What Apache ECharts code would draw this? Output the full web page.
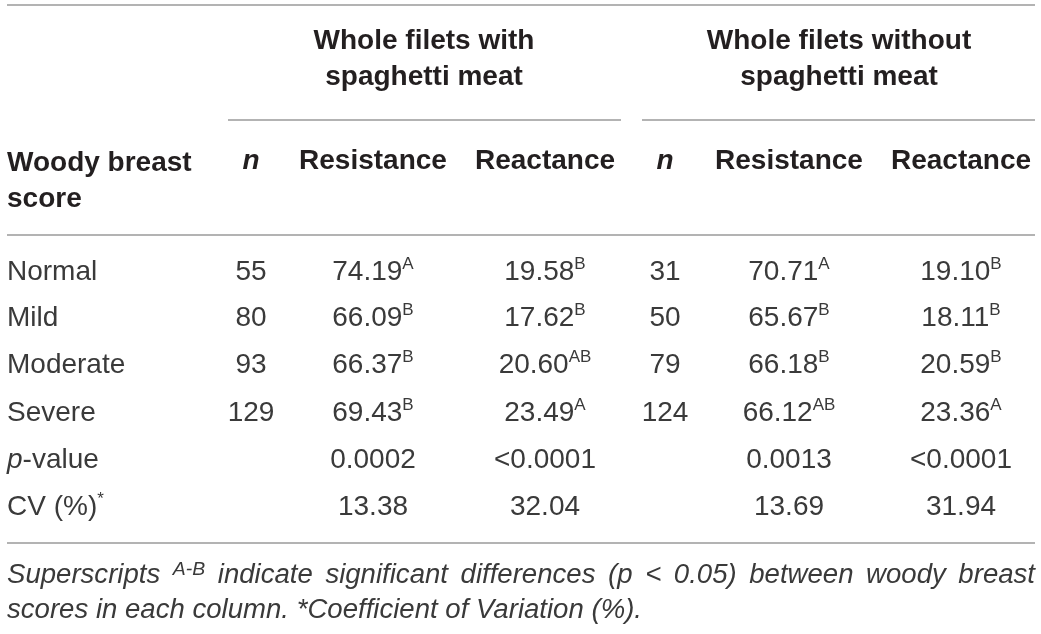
<!DOCTYPE html>
<html>
<head>
<meta charset="utf-8">
<script src="https://cdn.jsdelivr.net/npm/echarts@6/dist/echarts.min.js"></script>
<style>
  html, body { margin: 0; padding: 0; background: #fff; }
  #table { width: 1041px; height: 634px; }
</style>
</head>
<body>
<div id="table"></div>
<script>
// table values
var scores = ['Normal', 'Mild', 'Moderate', 'Severe'];
var nWith = [55, 80, 93, 129];
var resWith = [74.19, 66.09, 66.37, 69.43];
var resWithSup = ['A', 'B', 'B', 'B'];
var reaWith = [19.58, 17.62, 20.60, 23.49];
var reaWithSup = ['B', 'B', 'AB', 'A'];
var nWithout = [31, 50, 79, 124];
var resWithout = [70.71, 65.67, 66.18, 66.12];
var resWithoutSup = ['A', 'B', 'B', 'AB'];
var reaWithout = [19.10, 18.11, 20.59, 23.36];
var reaWithoutSup = ['B', 'B', 'B', 'A'];
var pValues = ['0.0002', '<0.0001', '0.0013', '<0.0001'];
var cvValues = ['13.38', '32.04', '13.69', '31.94'];
var groups = ['Whole filets with\nspaghetti meat', 'Whole filets without\nspaghetti meat'];
var colHeads = ['n', 'Resistance', 'Reactance', 'n', 'Resistance', 'Reactance'];
var noteWords = ['Superscripts', '^A-B', 'indicate', 'significant', 'differences', '(p', '<', '0.05)', 'between', 'woody', 'breast'];
var noteLine2 = 'scores in each column. *Coefficient of Variation (%).';

// layout
var FONT = '"Liberation Sans", Arial, Helvetica, sans-serif';
var colX = [251, 373, 545, 665, 789, 961];
var rowY = [272, 318, 365, 413, 460, 507];
var ink = '#231f20';
var body = '#3a3a3a';
var rule = '#9a9a9a';

var chart = echarts.init(document.getElementById('table'));
var els = [];

function hline(x1, x2, y) {
    els.push({type: 'line', shape: {x1: x1, y1: y, x2: x2, y2: y},
        style: {stroke: rule, lineWidth: 1.5}, silent: true});
}

var cellRich = {
    v: {fontFamily: FONT, fontSize: 28, fill: body, lineHeight: 32},
    s: {fontFamily: FONT, fontSize: 17, fill: body, lineHeight: 32, verticalAlign: 'top'},
    i: {fontFamily: FONT, fontSize: 28, fill: body, lineHeight: 32, fontStyle: 'italic'}
};

function cell(x, y, txt, sup, align) {
    var t = '{v|' + txt + '}' + (sup ? '{s|' + sup + '}' : '');
    els.push({type: 'text', x: x, y: y, silent: true, style: {
        text: t, align: align || 'center', verticalAlign: 'middle', rich: cellRich
    }});
}

function bold(x, y, txt, align, italic) {
    els.push({type: 'text', x: x, y: y, silent: true, style: {
        text: txt, align: align || 'center', verticalAlign: 'middle',
        fontFamily: FONT, fontSize: 28, fontWeight: 'bold', fontStyle: italic ? 'italic' : 'normal',
        fill: ink, lineHeight: 36
    }});
}

// rules
hline(7, 1035, 5);
hline(228, 621, 120);
hline(642, 1035, 120);
hline(7, 1035, 235);
hline(7, 1035, 543);

// header
bold(424, 59, groups[0]);
bold(839, 59, groups[1]);
bold(7, 181, 'Woody breast\nscore', 'left');
colHeads.forEach(function (h, i) {
    bold(colX[i], 161, h, 'center', h === 'n');
});

// body rows
scores.forEach(function (s, r) {
    cell(7, rowY[r], s, null, 'left');
    cell(colX[0], rowY[r], String(nWith[r]));
    cell(colX[1], rowY[r], resWith[r].toFixed(2), resWithSup[r]);
    cell(colX[2], rowY[r], reaWith[r].toFixed(2), reaWithSup[r]);
    cell(colX[3], rowY[r], String(nWithout[r]));
    cell(colX[4], rowY[r], resWithout[r].toFixed(2), resWithoutSup[r]);
    cell(colX[5], rowY[r], reaWithout[r].toFixed(2), reaWithoutSup[r]);
});

els.push({type: 'text', x: 7, y: rowY[4], silent: true, style: {
    text: '{i|p}{v|-value}', align: 'left', verticalAlign: 'middle', rich: cellRich
}});
[1, 2, 4, 5].forEach(function (c, k) {
    cell(colX[c], rowY[4], pValues[k]);
});

cell(7, rowY[5], 'CV (%)', '*', 'left');
[1, 2, 4, 5].forEach(function (c, k) {
    cell(colX[c], rowY[5], cvValues[k]);
});

// footnote: condensed italic, first line justified to the table width
var NOTE_PX = 27, NOTE_SUP = 19;
var ctx = document.createElement('canvas').getContext('2d');
function measure(txt, px) {
    ctx.font = 'italic ' + px + 'px ' + FONT;
    return ctx.measureText(txt).width;
}
var sx = (642 - 7) / measure(noteLine2, NOTE_PX);
var noteRich = {
    t: {fontFamily: FONT, fontSize: NOTE_PX, fontStyle: 'italic', fill: body, lineHeight: 30},
    s: {fontFamily: FONT, fontSize: NOTE_SUP, fontStyle: 'italic', fill: body, lineHeight: 30, verticalAlign: 'top'}
};
var widths = noteWords.map(function (w) {
    return w.charAt(0) === '^' ? measure(w.slice(1), NOTE_SUP) * sx : measure(w, NOTE_PX) * sx;
});
var total = widths.reduce(function (a, b) { return a + b; }, 0);
var gap = (1035 - 7 - total) / (noteWords.length - 1);
var cx = 7;
noteWords.forEach(function (w, i) {
    var isSup = w.charAt(0) === '^';
    els.push({type: 'text', x: cx, y: 575, scaleX: sx, silent: true, style: {
        text: isSup ? '{s|' + w.slice(1) + '}' : '{t|' + w + '}',
        align: 'left', verticalAlign: 'middle', rich: noteRich
    }});
    cx += widths[i] + gap;
});
els.push({type: 'text', x: 7, y: 610, scaleX: sx, silent: true, style: {
    text: '{t|' + noteLine2 + '}', align: 'left', verticalAlign: 'middle', rich: noteRich
}});

chart.setOption({
    backgroundColor: '#fff',
    animation: false,
    graphic: {elements: els}
});
</script>
</body>
</html>
